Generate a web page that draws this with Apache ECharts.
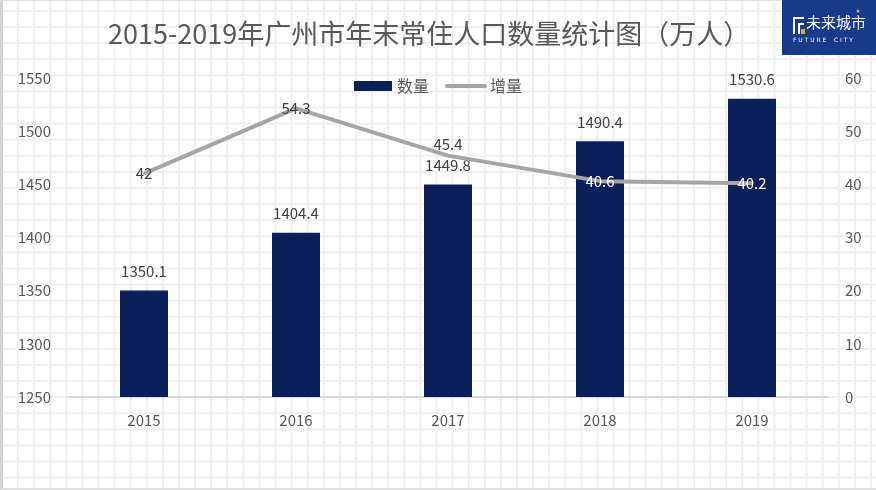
<!DOCTYPE html>
<html>
<head>
<meta charset="utf-8">
<script src="https://cdn.jsdelivr.net/npm/echarts@6/dist/echarts.min.js"></script>
<style>
html,body{margin:0;padding:0;}
body{
  width:876px;height:490px;overflow:hidden;
  background-color:#fff;
  background-image:
    linear-gradient(to right, #efefef 2px, transparent 2px),
    linear-gradient(to bottom, #efefef 2px, transparent 2px);
  background-size:16.1px 16.1px;
  background-position:1px 10px;
}
#frame{position:absolute;left:0;top:0;width:873px;height:487px;border-left:3px solid #d4d4d4;border-top:1px solid #e0e0e0;border-bottom:2px solid #e0e0e0;}
#chart{position:absolute;left:0;top:0;width:876px;height:490px;}
</style>
</head>
<body>
<div id="frame"></div>
<div id="chart"></div>
<script>
const categories = ['2015', '2016', '2017', '2018', '2019'];
const populationValues = [1350.1, 1404.4, 1449.8, 1490.4, 1530.6];
const increaseValues = [42, 54.3, 45.4, 40.6, 40.2];
const leftTicks = [1250, 1550, 50];
const rightTicks = [0, 60, 10];
const titleText = '2015-2019年广州市年末常住人口数量统计图（万人）';
const seriesNames = ['数量', '增量'];

const chart = echarts.init(document.getElementById('chart'), null, {renderer: 'canvas'});
const font = '"Noto Sans CJK SC", "Noto Sans", sans-serif';
const lineLabelColors = ['#404040', '#404040', '#404040', '#ffffff', '#ffffff'];
const lineLabelPos = ['inside', 'inside', 'top', 'inside', 'inside'];

chart.setOption({
  backgroundColor: 'transparent',
  animation: false,
  textStyle: {fontFamily: font},
  title: {
    text: titleText,
    left: 103,
    top: 15,
    textStyle: {fontSize: 27, fontWeight: 'normal', color: '#595959', fontFamily: font}
  },
  legend: {
    left: 349,
    top: 73,
    itemWidth: 38,
    itemHeight: 10,
    itemGap: 16,
    textStyle: {fontSize: 16, color: '#595959', fontFamily: font},
    data: [
      {name: seriesNames[0], icon: 'rect'},
      {name: seriesNames[1], itemStyle: {opacity: 0}, lineStyle: {width: 4, color: '#a5a5a5', cap: 'round'}}
    ]
  },
  grid: {left: 68, right: 48, top: 78, bottom: 93, containLabel: false},
  xAxis: {
    type: 'category',
    data: categories,
    axisTick: {show: false},
    axisLine: {lineStyle: {color: '#d9d9d9', width: 2}},
    axisLabel: {fontSize: 15, color: '#595959', margin: 16, fontFamily: font}
  },
  yAxis: [
    {
      type: 'value', min: leftTicks[0], max: leftTicks[1], interval: leftTicks[2],
      splitLine: {show: false},
      axisLine: {show: false}, axisTick: {show: false},
      axisLabel: {fontSize: 15, color: '#595959', margin: 17, fontFamily: font, formatter: v => String(v)}
    },
    {
      type: 'value', min: rightTicks[0], max: rightTicks[1], interval: rightTicks[2],
      splitLine: {show: false},
      axisLine: {show: false}, axisTick: {show: false},
      axisLabel: {fontSize: 15, color: '#595959', margin: 17, fontFamily: font, formatter: v => String(v)}
    }
  ],
  series: [
    {
      name: seriesNames[0],
      type: 'bar',
      yAxisIndex: 0,
      data: populationValues,
      barWidth: 48,
      itemStyle: {color: '#0b1f5b'},
      label: {show: true, position: 'top', distance: 12, fontSize: 15, color: '#404040', fontFamily: font}
    },
    {
      name: seriesNames[1],
      type: 'line',
      yAxisIndex: 1,
      z: 5,
      symbol: 'circle',
      symbolSize: 2,
      showSymbol: true,
      lineStyle: {color: '#a5a5a5', width: 4},
      itemStyle: {color: '#a5a5a5'},
      data: increaseValues.map((v, i) => ({
        value: v,
        label: {show: true, color: lineLabelColors[i], position: lineLabelPos[i], distance: 3, fontSize: 15, fontFamily: font}
      })),
      label: {show: true, fontSize: 15, fontFamily: font}
    }
  ],
  graphic: [
    {type: 'rect', left: 782, top: 0, shape: {width: 94, height: 55}, style: {fill: '#173a8b'}, z: 10},
    {type: 'rect', left: 793, top: 17, shape: {width: 2, height: 17}, style: {fill: '#ffffff'}, z: 11},
    {type: 'rect', left: 793, top: 17, shape: {width: 11, height: 2}, style: {fill: '#ffffff'}, z: 11},
    {type: 'rect', left: 798, top: 23, shape: {width: 2, height: 11}, style: {fill: '#ffffff'}, z: 11},
    {type: 'rect', left: 798, top: 23, shape: {width: 6, height: 2}, style: {fill: '#ffffff'}, z: 11},
    {type: 'rect', left: 801, top: 29, shape: {width: 4, height: 5}, style: {fill: '#e8a33a'}, z: 11},
    {type: 'text', left: 806, top: 15, style: {text: '未来城市', fill: '#ffffff', fontSize: 15, fontFamily: font}, z: 11},
    {type: 'text', left: 793, top: 37, style: {text: 'F U T U R E    C I T Y', fill: '#ffffff', fontSize: 6, fontFamily: 'DejaVu Sans'}, z: 11},
    {type: 'circle', shape: {cx: 858, cy: 11, r: 1.5}, style: {fill: '#e8a33a'}, z: 11}
  ]
});
</script>
</body>
</html>
